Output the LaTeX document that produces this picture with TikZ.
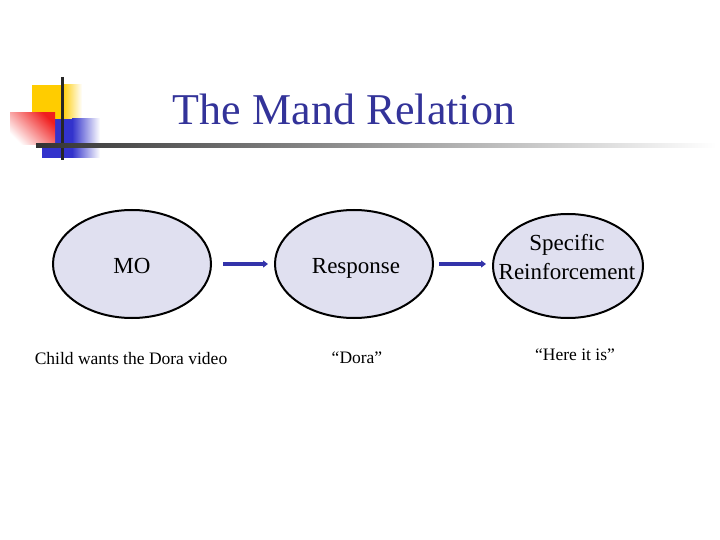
\documentclass[tikz,border=0pt]{standalone}
\usepackage{fontspec}
\setmainfont{Liberation Serif}
\usetikzlibrary{shapes.geometric,arrows.meta}
\definecolor{titleblue}{RGB}{51,51,153}
\definecolor{arrblue}{RGB}{51,51,170}
\definecolor{ellfill}{RGB}{224,224,240}
\definecolor{decoyellow}{RGB}{255,204,0}
\definecolor{decored}{RGB}{240,30,30}
\definecolor{decoblue}{RGB}{51,51,204}
\tikzset{
  bubble/.style={ellipse, draw=black, line width=2pt, fill=ellfill, inner sep=0pt},
  lbl/.style={anchor=base, inner sep=0pt, font=\fontsize{23}{28}\selectfont},
  sublbl/.style={anchor=base, inner sep=0pt, font=\fontsize{17.5}{21}\selectfont},
  arr/.style={draw=arrblue, line width=3.5pt, -{Triangle[length=5pt,width=7pt]}},
}
\begin{document}
\begin{tikzpicture}[x=1pt,y=-1pt]
\useasboundingbox (0,0) rectangle (720,540);
% decoration
\fill[decoyellow] (32,85) rectangle (62,119);
\shade[left color=decoyellow, right color=white] (62,85) rectangle (82,119);
\fill[decoblue] (42,119) rectangle (72,158);
\shade[left color=decoblue, right color=white] (72,119) rectangle (100,158);
\shade[top color=decored, bottom color=white, shading angle=-45] (10,113) rectangle (55,145);
\draw[black!85, line width=3pt] (62,77) -- (62,160);
\shade[left color=black!80, right color=white] (36,143.5) rectangle (716,147.5);
% title
\node[anchor=base, inner sep=0pt, text=titleblue, font=\fontsize{44}{52}\selectfont] (title) at (344,125) {The Mand Relation};
% ellipses
\node[bubble, minimum width=158pt, minimum height=108pt] (mo) at (132,264) {};
\node[bubble, minimum width=158pt, minimum height=108pt] (resp) at (354,264) {};
\node[bubble, minimum width=150pt, minimum height=104pt] (spec) at (568,266) {};
% labels
\node[lbl] (motxt) at (132,273) {MO};
\node[lbl] (resptxt) at (356,273) {Response};
\node[lbl] (spectxt1) at (567,251) {Specific};
\node[lbl] (spectxt2) at (567,279) {Reinforcement};
% arrows
\draw[arr, shorten <=11pt, shorten >=6pt] (mo.east) -- (resp.west);
\draw[arr, shorten <=5pt, shorten >=6pt] (resp.east) -- (spec.west |- resp.east);
% bottom texts
\node[sublbl] (ex1) at (131,364) {Child wants the Dora video};
\node[sublbl] (ex2) at (357,363) {“Dora”};
\node[sublbl] (ex3) at (575,360) {“Here it is”};
\end{tikzpicture}
\end{document}
